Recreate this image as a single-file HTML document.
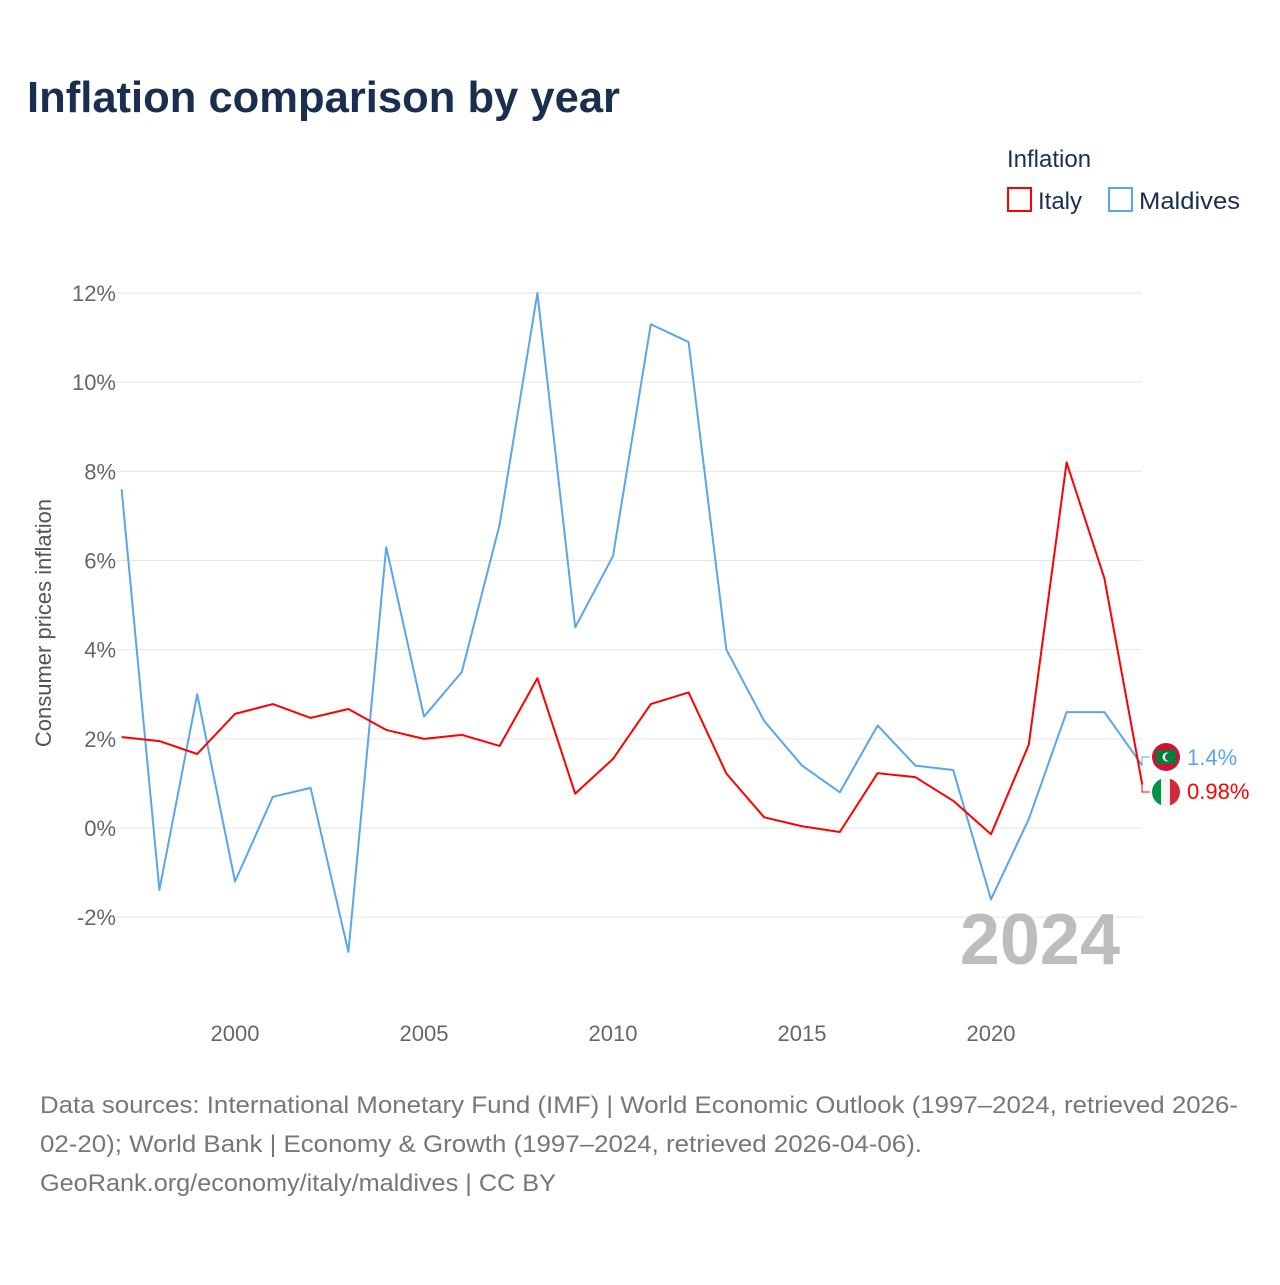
<!DOCTYPE html>
<html><head><meta charset="utf-8"><style>
body{margin:0;background:#fff;font-family:"Liberation Sans",sans-serif}
</style></head><body>
<svg width="1280" height="1280" xmlns="http://www.w3.org/2000/svg" font-family="Liberation Sans, sans-serif">
<rect width="1280" height="1280" fill="#fff"/>
<text x="27" y="112" font-size="44" font-weight="bold" fill="#1a2e4f" textLength="593" lengthAdjust="spacingAndGlyphs">Inflation comparison by year</text>
<text x="1007" y="167" font-size="24" fill="#1a2e4f">Inflation</text>
<g><rect x="1008" y="188" width="23" height="23" fill="none" stroke="#ff0000" stroke-width="2"/><text x="1038" y="209" font-size="24" fill="#1a2e4f">Italy</text></g>
<g><rect x="1109" y="188" width="23" height="23" fill="none" stroke="#5aa6ea" stroke-width="2"/><text x="1139" y="209" font-size="24" fill="#1a2e4f" textLength="101" lengthAdjust="spacingAndGlyphs">Maldives</text></g>
<g id="grid"></g><g id="yt"></g><g id="xt"></g>
<text transform="translate(51,623) rotate(-90)" text-anchor="middle" font-size="22" fill="#555">Consumer prices inflation</text>
<text x="1120" y="964" text-anchor="end" font-size="72" font-weight="bold" fill="#bdbdbd">2024</text>
<g id="lines"></g>
<path d="M1142,765 L1142,757 L1150,757" fill="none" stroke="#5aa6ea" stroke-width="1"/>
<path d="M1142,784 L1142,792 L1150,792" fill="none" stroke="#ff0000" stroke-width="1"/>
<g>
<circle cx="1166" cy="757" r="14" fill="#d21034"/><rect x="1156" y="750" width="20" height="14" fill="#007e3a"/><circle cx="1167" cy="757" r="4.5" fill="#fff"/><circle cx="1169" cy="757" r="4" fill="#007e3a"/>
<text x="1187" y="765" font-size="22" fill="#5aa6ea" id="mlab">1.4%</text></g>
<g>
<clipPath id="c"><circle cx="1166" cy="792" r="14"/></clipPath>
<g clip-path="url(#c)"><rect x="1152" y="778" width="10" height="28" fill="#009246"/><rect x="1161" y="778" width="10" height="28" fill="#f4f4f4"/><rect x="1170" y="778" width="10" height="28" fill="#ce2b37"/></g>
<text x="1187" y="799" font-size="22" fill="#ff0000" id="ilab">0.98%</text></g>
<g font-size="24" fill="#777">
<text x="40" y="1113" textLength="1198" lengthAdjust="spacingAndGlyphs">Data sources: International Monetary Fund (IMF) | World Economic Outlook (1997–2024, retrieved 2026-</text>
<text x="40" y="1152" textLength="882" lengthAdjust="spacingAndGlyphs">02-20); World Bank | Economy &amp; Growth (1997–2024, retrieved 2026-04-06).</text>
<text x="40" y="1191" textLength="516" lengthAdjust="spacingAndGlyphs">GeoRank.org/economy/italy/maldives | CC BY</text>
</g>
</svg>
<script>
const years=[1997,1998,1999,2000,2001,2002,2003,2004,2005,2006,2007,2008,2009,2010,2011,2012,2013,2014,2015,2016,2017,2018,2019,2020,2021,2022,2023,2024];
const maldives=[7.6,-1.39,3.0,-1.2,0.7,0.9,-2.78,6.3,2.5,3.5,6.8,12.0,4.5,6.1,11.3,10.9,4.0,2.4,1.4,0.8,2.3,1.4,1.3,-1.6,0.2,2.6,2.6,1.4];
const italy=[2.04,1.95,1.66,2.56,2.78,2.47,2.67,2.2,2.0,2.09,1.84,3.36,0.77,1.55,2.78,3.04,1.22,0.24,0.04,-0.09,1.23,1.14,0.61,-0.14,1.87,8.2,5.6,0.98];
const yTicks=[-2,0,2,4,6,8,10,12];
const xTicks=[2000,2005,2010,2015,2020];
const NS="http://www.w3.org/2000/svg";
const X=y=>121.6+(y-1997)*37.8;
const Y=v=>828-v*44.58;
function mk(t,a,p){const e=document.createElementNS(NS,t);for(const k in a)e.setAttribute(k,a[k]);p.appendChild(e);return e;}
const g=document.getElementById('grid'),yt=document.getElementById('yt'),xt=document.getElementById('xt'),L=document.getElementById('lines');
yTicks.forEach(v=>{
const l=mk('line',{x1:116,x2:1142,y1:Y(v),y2:Y(v),stroke:'#e6e6e6','stroke-width':1},g);


const t=mk('text',{x:116,y:Y(v)+8,'text-anchor':'end','font-size':22,fill:'#666'},yt);
t.textContent=v+'%';


});
xTicks.forEach(v=>{
const t=mk('text',{x:X(v),y:1041,'text-anchor':'middle','font-size':22,fill:'#666'},xt);
t.textContent=v;


});
function line(d,c,n){
const p=mk('polyline',{points:d.map((v,i)=>X(years[i])+','+Y(v)).join(' '),fill:'none',stroke:c,'stroke-width':2,'stroke-linejoin':'round'},L);


}
line(maldives,'#5aa6ea','maldives-line');
line(italy,'#ff0000','italy-line');
document.getElementById('mlab').textContent=maldives[maldives.length-1]+'%';
document.getElementById('ilab').textContent=italy[italy.length-1]+'%';
</script>
</body></html>
